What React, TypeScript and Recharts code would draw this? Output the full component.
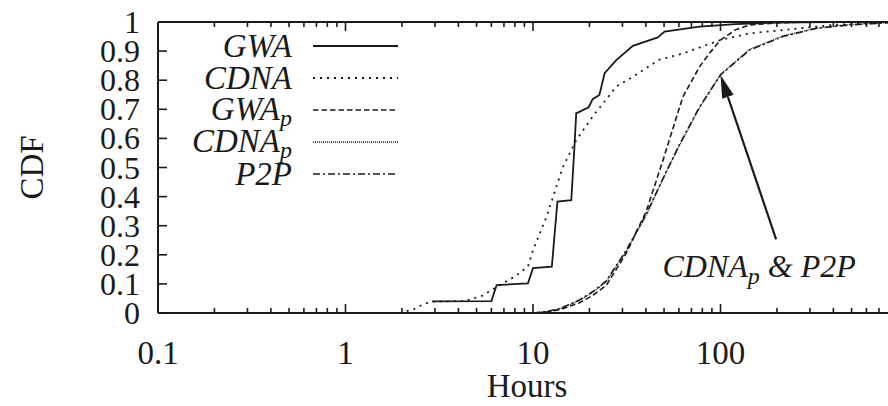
import React from 'react';
import { LineChart, Line, XAxis, YAxis, Legend, ReferenceLine } from 'recharts';

// hours / cdf pairs
const gwaHours = [2.9, 6.0, 6.4, 9.4, 10.0, 12.6, 13.5, 16.0, 16.6, 17.0, 19.8, 20.8, 22.6, 24.1, 27.8, 34.1, 46.3, 50.3, 77.3, 120, 200, 400, 1000];
const gwaCdf = [0.04, 0.041, 0.096, 0.102, 0.154, 0.159, 0.383, 0.388, 0.56, 0.686, 0.707, 0.735, 0.749, 0.824, 0.869, 0.918, 0.947, 0.967, 0.984, 0.993, 0.998, 1, 1];

const cdnaHours = [1.95, 2.3, 2.6, 2.9, 4.4, 5.4, 6.4, 8.0, 9.4, 10.0, 11.8, 14.4, 17.0, 20.8, 27.8, 34.1, 47.0, 63, 100, 143, 264, 396, 700, 1000];
const cdnaCdf = [0, 0.012, 0.03, 0.039, 0.042, 0.06, 0.09, 0.125, 0.16, 0.216, 0.33, 0.5, 0.594, 0.675, 0.778, 0.812, 0.87, 0.892, 0.938, 0.961, 0.978, 0.99, 0.998, 1];

const gwapHours = [10.5, 12, 14, 17.7, 21, 24.6, 31.4, 40.2, 49.4, 63, 77.3, 86.7, 100, 120, 143, 200, 300, 1000];
const gwapCdf = [0, 0.004, 0.012, 0.035, 0.062, 0.095, 0.205, 0.35, 0.526, 0.743, 0.846, 0.89, 0.938, 0.973, 0.99, 0.997, 1, 1];

const cdnapHours = [10, 12, 14, 17.7, 21, 24.6, 31.4, 40.2, 50, 60, 77.3, 100, 143, 215, 324, 488, 800, 1000];
const cdnapCdf = [0, 0.005, 0.015, 0.043, 0.073, 0.108, 0.212, 0.336, 0.468, 0.572, 0.705, 0.82, 0.906, 0.952, 0.979, 0.991, 0.998, 1];

const p2pHours = [10, 12, 14, 17.7, 21, 24.6, 31.4, 40.2, 50, 60, 77.3, 100, 143, 215, 324, 488, 800, 1000];
const p2pCdf = [0, 0.006, 0.016, 0.045, 0.075, 0.11, 0.215, 0.34, 0.47, 0.575, 0.708, 0.818, 0.904, 0.95, 0.978, 0.99, 0.998, 1];

const majorHours = [0.1, 1, 10, 100, 1000];
const hourLabels = ['0.1', '1', '10', '100'];
const cdfTicks = [0, 0.1, 0.2, 0.3, 0.4, 0.5, 0.6, 0.7, 0.8, 0.9, 1];

// annotation arrow: from label to the CDNA_p / P2P curves
const arrowTail = { h: 198, c: 0.253 };
const arrowTip = { h: 100, c: 0.818 };

const zip = (hs: number[], cs: number[]) => hs.map((h, i) => ({ h, c: cs[i] }));

const hourTicks: number[] = [];
majorHours.forEach((m, i) => {
  hourTicks.push(m);
  if (i < majorHours.length - 1) {
    for (let k = 2; k <= 9; k++) hourTicks.push(Number((m * k).toPrecision(3)));
  }
});

const INK = '#1a1a1a';
const FONT = "'Liberation Serif', 'Times New Roman', serif";

const series = [
  { key: 'gwa', name: 'GWA', sub: '', data: zip(gwaHours, gwaCdf), dash: undefined, width: 1.8 },
  { key: 'cdna', name: 'CDNA', sub: '', data: zip(cdnaHours, cdnaCdf), dash: '2 5', width: 1.8 },
  { key: 'gwap', name: 'GWA', sub: 'p', data: zip(gwapHours, gwapCdf), dash: '5.5 3', width: 1.6 },
  { key: 'cdnap', name: 'CDNA', sub: 'p', data: zip(cdnapHours, cdnapCdf), dash: '1 1', width: 1.3 },
  { key: 'p2p', name: 'P2P', sub: '', data: zip(p2pHours, p2pCdf), dash: '7 3 2 3', width: 1.6 },
];

function BottomTick(props: any) {
  const { x, y, payload } = props;
  const idx = majorHours.indexOf(payload.value);
  const major = idx >= 0;
  return (
    <g>
      <line x1={x} y1={y} x2={x} y2={y - (major ? 9 : 5)} stroke={INK} strokeWidth={1.6} />
      {major && hourLabels[idx] && (
        <text x={x} y={y + 51} textAnchor="middle" fontFamily={FONT} fontSize={33} fill={INK}>
          {hourLabels[idx]}
        </text>
      )}
    </g>
  );
}

function TopTick(props: any) {
  const { x, y, payload } = props;
  const major = majorHours.includes(payload.value);
  return <line x1={x} y1={y} x2={x} y2={y + (major ? 9 : 5)} stroke={INK} strokeWidth={1.6} />;
}

function LeftTick(props: any) {
  const { x, y, payload } = props;
  return (
    <g>
      <line x1={x} y1={y} x2={x + 9} y2={y} stroke={INK} strokeWidth={1.6} />
      <text x={x - 18} y={y + 11} textAnchor="end" fontFamily={FONT} fontSize={32} fill={INK}>
        {String(payload.value)}
      </text>
    </g>
  );
}

function RightTick(props: any) {
  const { x, y } = props;
  return <line x1={x} y1={y} x2={x - 9} y2={y} stroke={INK} strokeWidth={1.6} />;
}

function ArrowNote(props: any) {
  const { x1, y1, x2, y2 } = props;
  const dx = x2 - x1;
  const dy = y2 - y1;
  const len = Math.hypot(dx, dy) || 1;
  const ux = dx / len;
  const uy = dy / len;
  const hl = 23;
  const hw = 6;
  const bx = x2 - ux * hl;
  const by = y2 - uy * hl;
  return (
    <g>
      <line x1={x1} y1={y1} x2={bx} y2={by} stroke={INK} strokeWidth={2.2} />
      <polygon
        points={`${x2},${y2} ${bx - uy * hw},${by + ux * hw} ${bx + uy * hw},${by - ux * hw}`}
        fill={INK}
      />
      <text x={x1 - 17} y={y1 + 38} textAnchor="middle" fontFamily={FONT} fontSize={32} fontStyle="italic" fill={INK}>
        CDNA
        <tspan dy={7} fontSize={24}>p</tspan>
        <tspan dy={-7}>{' & P2P'}</tspan>
      </text>
    </g>
  );
}

function LegendBox() {
  return (
    <div style={{ fontFamily: FONT, color: INK }}>
      {series.map((s) => (
        <div key={s.key} style={{ display: 'flex', alignItems: 'center', height: 32 }}>
          <span
            style={{
              width: 142,
              textAlign: 'right',
              fontStyle: 'italic',
              fontSize: 33,
              lineHeight: '32px',
              whiteSpace: 'nowrap',
            }}
          >
            {s.name}
            {s.sub && <span style={{ fontSize: 24, position: 'relative', top: 6 }}>{s.sub}</span>}
          </span>
          <svg width={106} height={32}>
            <line x1={21} x2={106} y1={16} y2={16} stroke={INK} strokeWidth={s.width} strokeDasharray={s.dash} />
          </svg>
        </div>
      ))}
    </div>
  );
}

export default function App() {
  return (
    <div style={{ position: 'absolute', left: 0, top: 0, width: 888, height: 406, overflow: 'hidden', background: '#fff' }}>
      <LineChart width={920} height={406} margin={{ top: 21, right: 0, bottom: 0, left: 0 }}>
        <XAxis
          dataKey="h"
          type="number"
          scale="log"
          domain={[0.1, 1000]}
          ticks={hourTicks}
          interval={0}
          height={93}
          tickSize={0}
          tickMargin={0}
          tickLine={false}
          tick={<BottomTick />}
          axisLine={{ stroke: INK, strokeWidth: 2 }}
          allowDataOverflow
          label={(p: any) => {
            const vb = p.viewBox;
            return (
              <text x={vb.x + vb.width / 2 - 6} y={vb.y + 84} textAnchor="middle" fontFamily={FONT} fontSize={33} fill={INK}>
                Hours
              </text>
            );
          }}
        />
        <XAxis
          xAxisId="top"
          orientation="top"
          dataKey="h"
          type="number"
          scale="log"
          domain={[0.1, 1000]}
          ticks={hourTicks}
          interval={0}
          height={1}
          tickSize={0}
          tickMargin={0}
          tickLine={false}
          tick={<TopTick />}
          axisLine={{ stroke: INK, strokeWidth: 2 }}
          allowDataOverflow
        />
        <YAxis
          type="number"
          domain={[0, 1]}
          ticks={cdfTicks}
          interval={0}
          width={158}
          tickSize={0}
          tickMargin={0}
          tickLine={false}
          tick={<LeftTick />}
          axisLine={{ stroke: INK, strokeWidth: 2 }}
          label={(p: any) => {
            const vb = p.viewBox;
            const cy = vb.y + vb.height / 2;
            return (
              <text x={43} y={cy} transform={`rotate(-90 43 ${cy})`} textAnchor="middle" fontFamily={FONT} fontSize={33} fill={INK}>
                CDF
              </text>
            );
          }}
        />
        <YAxis
          yAxisId="right"
          orientation="right"
          type="number"
          domain={[0, 1]}
          ticks={cdfTicks}
          interval={0}
          width={12}
          tickSize={0}
          tickMargin={0}
          tickLine={false}
          tick={<RightTick />}
          axisLine={{ stroke: INK, strokeWidth: 2 }}
        />
        <Legend
          layout="horizontal"
          verticalAlign="middle"
          align="center"
          content={() => <LegendBox />}
          wrapperStyle={{ left: 150, top: 30, width: 260 }}
        />
        {series.map((s) => (
          <Line
            key={s.key}
            data={s.data}
            dataKey="c"
            type="linear"
            stroke={INK}
            strokeWidth={s.width}
            strokeDasharray={s.dash}
            dot={false}
            activeDot={false}
            isAnimationActive={false}
          />
        ))}
        <ReferenceLine
          segment={[
            { x: arrowTail.h, y: arrowTail.c },
            { x: arrowTip.h, y: arrowTip.c },
          ]}
          shape={(p: any) => <ArrowNote {...p} />}
        />
      </LineChart>
    </div>
  );
}
